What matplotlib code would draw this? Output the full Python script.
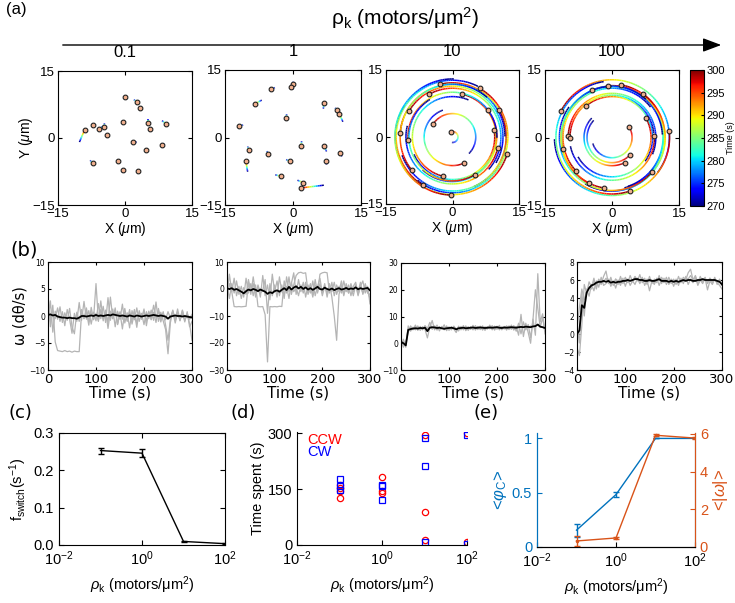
import numpy as np
import matplotlib
matplotlib.use('Agg')
import matplotlib.pyplot as plt
from matplotlib.collections import LineCollection
from matplotlib.patches import FancyArrowPatch
from matplotlib.colors import Normalize
from matplotlib.cm import ScalarMappable

plt.rcParams['font.family'] = 'Liberation Sans'
plt.rcParams['mathtext.fontset'] = 'custom'
plt.rcParams['mathtext.rm'] = 'Liberation Sans'
plt.rcParams['mathtext.it'] = 'Liberation Sans:italic'
plt.rcParams['mathtext.bf'] = 'Liberation Sans:bold'

densities = ['0.1', '1', '10', '100']

# (a) filament positions at t = 300 s, and at t = 270 s for the low-density runs
p1_x = [0.0, 2.6, 3.4, -9.0, -7.1, -5.8, -4.7, -4.1, -0.4, 5.1, 5.6, 9.2, 1.8, 4.6, 8.2, -7.2, -1.6, -0.4, 2.8]
p1_y = [9.1, 8.1, 6.8, 1.9, 2.9, 2.0, 2.5, 0.6, 3.6, 3.4, 2.1, 3.1, -1.0, -2.6, -1.6, -5.7, -5.2, -7.2, -7.4]
p1_x0 = [0.1, 2.0, 3.5, -10.2, -7.2, -5.0, -4.6, -4.2, -0.6, 5.1, 5.7, 8.3, 2.6, 4.7, 8.8, -7.8, -1.2, -0.7, 2.9]
p1_y0 = [9.3, 8.6, 7.1, -0.9, 2.4, 2.6, 3.3, 0.8, 3.9, 4.3, 2.4, 3.9, -0.9, -2.3, -1.3, -5.0, -5.0, -7.7, -7.1]

p2_x = [-0.1, -0.5, -4.9, -8.4, 6.8, 9.6, 10.2, -1.5, -11.9, 1.8, 6.8, 10.4, -9.8, -5.6, -0.7, 7.2, -10.4, -2.7, 2.2, 1.8]
p2_y = [12.0, 11.2, 10.7, 7.5, 7.7, 6.1, 5.3, 4.4, 2.5, -1.8, -1.8, -3.4, -2.7, -3.7, -5.3, -5.2, -5.3, -8.6, -10.0, -11.2]
p2_x0 = [0.1, 0.1, -4.0, -6.9, 6.7, 9.3, 11.0, -1.4, -11.0, 1.9, 7.4, 10.8, -10.0, -5.7, -1.5, 7.4, -10.0, -3.9, 1.0, 6.8]
p2_y0 = [12.4, 10.7, 11.1, 8.3, 6.4, 6.6, 3.5, 5.2, 2.8, -0.8, -3.1, -4.2, -2.0, -3.0, -4.9, -6.0, -7.6, -8.3, -9.5, -10.6]

# high-density runs: positions at t = 300 s and angle swept (deg) over the last 30 s
p3_x = [-2.8, 6.1, -5.2, 2.1, -9.8, 7.9, 10.5, -4.3, -0.3, -11.8, -10.0, 9.4, 10.2, 12.3, 2.7, -9.2, 5.1, -2.1, -6.7, -0.3]
p3_y = [11.8, 10.9, 9.6, 9.6, 5.8, 6.1, 6.0, 3.0, 1.2, 0.9, -0.7, 1.5, -2.5, -3.9, -5.8, -7.4, -8.4, -8.8, -10.8, -13.0]
p3_sweep = [170, 190, 160, 200, 180, 170, 190, 190, 200, 175, 185, 165, 180, 195, 185, 170, 180, 190, 175, 180]

p4_x = [-4.5, -0.8, 2.0, 6.9, -11.4, -5.8, 7.6, 3.8, 9.5, 12.8, -9.8, -9.4, -11.0, 4.1, 2.8, -8.0, 9.0, -5.1, -1.9, 4.0]
p4_y = [10.5, 11.5, 11.7, 9.7, 5.9, 7.0, 4.3, 2.4, 0.3, 1.5, 0.4, -0.2, -2.6, -3.8, -5.6, -7.5, -7.6, -10.2, -11.2, -11.9]
p4_sweep = [185, 170, 200, 175, 190, 165, 180, 195, 170, 185, 200, 175, 190, 180, 160, 185, 175, 195, 170, 190]

# (b) angular velocity traces, sampled every 5 s
t_b = np.arange(0, 301, 5)

b1_mean = [0.2, 0.3, 0.1, 0.2, -0.1, -0.2, -0.3, -0.3, -0.4, -0.3, -0.4, -0.4, -0.5, -0.3, 0.0, 0.0, -0.1, 0.0, 0.1, 0.0,
           0.2, 0.0, 0.1, 0.0, 0.1, 0.2, 0.1, 0.3, 0.2, 0.1, 0.0, 0.1, 0.0, -0.1, 0.1, 0.0, -0.1, 0.1, 0.0, -0.1,
           0.0, 0.1, 0.0, 0.1, 0.2, 0.1, 0.0, 0.1, 0.0, -0.1, -0.5, -0.1, 0.0, 0.1, 0.0, 0.0, -0.1, 0.0, -0.1, -0.2, -0.3]
b1_runs = [
    [3.5, -1.0, 2.0, -4.8, -6.4, -6.5, -6.6, -6.4, -6.6, -6.5, -6.7, -6.5, -6.6, -6.6, 0.8, -0.5, 1.5, -1.0, 0.6, -0.4,
     6.0, -0.8, 1.2, -0.6, 0.9, -1.2, 3.5, -0.5, 1.0, -1.5, 0.8, -0.6, 1.4, -1.0, 0.5, -0.8, 1.2, -1.4, 0.6, -0.5,
     1.0, -0.9, 0.7, -0.6, 2.0, -0.3, 0.9, -1.1, 0.5, -0.7, 0.8, -0.4, 1.1, -0.9, 0.6, -0.5, 1.0, -0.8, 0.4, -0.6, 0.3],
    [4.2, -2.0, 1.0, -0.5, 1.5, -1.0, 0.8, -1.8, 1.2, -0.6, -3.2, 0.5, -1.0, 2.5, -0.8, 2.7, -0.6, 1.0, -1.5, 0.7,
     -0.9, 2.3, -0.5, 1.8, -1.2, 3.4, -0.8, 1.3, -2.0, 0.9, -0.6, 2.2, -1.3, 0.6, -2.2, 1.0, -0.7, 1.5, -1.0, 0.5,
     -1.6, 0.8, -0.5, 1.1, -0.8, 2.6, -1.0, 0.7, -0.9, -2.5, -7.0, -1.2, 0.9, -0.6, 1.3, -0.8, 0.6, -1.1, 0.8, -2.0, -1.0],
    [-1.0, 2.8, -3.0, 0.9, -0.6, 1.7, -1.2, 0.6, -0.8, 1.4, -2.0, -3.3, 0.7, -1.0, 1.2, -0.5, 0.8, -1.7, 1.6, -0.7,
     0.5, -1.0, 2.8, -0.9, 1.1, -2.3, 0.9, -0.5, 1.5, -1.6, 0.6, -2.4, 0.8, -0.8, 1.2, -1.5, 0.5, -2.1, 1.0, -0.6,
     1.3, -1.8, 0.9, -0.7, 0.7, -1.2, 1.4, -0.6, 0.8, -1.7, -4.5, -0.5, 0.9, -1.3, 0.6, -0.9, 1.1, -0.7, 0.5, -1.5, -4.5],
]

b2_mean = [0.2, 0.0, 0.3, -0.3, 0.0, -0.5, -1.0, -1.6, -0.8, -0.2, -0.5, 0.0, -0.3, -0.8, -0.2, -0.6, -1.0, -1.8, -1.2, -1.5,
           -0.8, -0.5, -1.0, -0.3, 0.3, -0.4, 0.8, -0.2, 0.5, 1.0, 0.2, 0.8, 0.0, 0.6, -0.2, 0.3, -0.3, 0.2, 0.8, 0.0,
           -0.2, 0.5, 0.0, -0.3, 0.2, -0.4, 0.0, 0.3, -0.2, 0.0, 0.4, -0.1, 0.2, 0.0, 0.6, -0.1, 0.3, 0.0, 0.2, 0.4, -0.5]
b2_runs = [
    [-2.0, 5.5, -1.0, -6.5, -6.6, -6.5, -6.6, -6.5, -6.4, 2.5, -2.0, 4.5, -1.5, 1.0, -3.0, 5.0, -2.5, 1.5, -4.0, 5.5,
     -1.0, 3.0, -2.5, 1.5, -3.5, 4.5, -1.0, 2.0, 6.0, -2.0, 3.5, -1.0, 2.5, -3.0, 1.5, -1.5, 3.0, -2.5, 1.0, 4.0,
     -1.5, 2.0, -3.0, 1.5, -1.0, 2.5, -2.0, 1.0, -1.5, 3.0, -1.0, 1.5, -2.5, 1.0, 2.5, -2.0, 1.0, -1.5, 2.0, -1.0, -3.5],
    [1.5, -3.5, 2.0, -1.5, 3.0, -2.0, 1.0, -3.0, 4.0, -1.5, 2.0, -2.5, 1.5, -6.5, -6.6, -6.5, -9.5, -27.0, -6.5, -6.6,
     -6.5, -6.6, -6.4, -6.5, 3.0, -1.5, 4.5, -2.0, 1.5, 5.0, 6.0, 6.2, 5.8, 6.0, -1.0, 2.0, -2.0, 3.5, -1.5, 5.5,
     6.0, 6.2, 6.0, -1.5, 2.5, -2.5, 1.5, -1.0, 3.0, -2.0, 1.0, -1.5, 2.0, -1.0, 1.5, -2.5, 1.0, 3.0, -1.5, 1.0, -5.5],
    [-3.0, 2.0, -1.0, 4.0, -2.5, 1.0, -3.5, 0.5, -2.0, 3.5, -1.0, 2.0, -3.0, 1.5, -1.5, -0.5, 3.5, -9.0, 2.0, -2.5,
     1.5, -3.0, 4.5, -1.0, -2.0, 1.0, -3.5, 2.5, -1.0, 0.5, -2.5, 1.5, -1.5, 2.5, -2.0, 1.0, -3.0, 1.5, -1.0, 2.0,
     -2.5, 1.0, -1.5, 2.0, -3.0, -10.0, -19.0, -2.0, 1.5, -2.5, 2.0, -1.5, 1.0, -2.5, 1.5, -1.0, 2.5, -2.0, 1.0, -1.5, -2.0],
]

b3_mean = [0.5, 0.0, -0.8, 5.0, 5.3, 5.5, 5.6, 5.5, 5.7, 5.6, 5.8, 4.5, 5.8, 6.0, 5.9, 5.7, 5.8, 5.6, 5.4, 5.6,
           5.7, 5.8, 5.6, 5.2, 5.6, 5.7, 5.8, 5.6, 5.7, 5.8, 5.9, 5.7, 5.8, 5.9, 5.8, 5.7, 5.8, 5.9, 5.8, 5.9,
           6.0, 5.8, 5.7, 5.9, 5.8, 5.9, 6.0, 5.9, 5.8, 6.0, 6.1, 6.0, 6.2, 6.1, 6.0, 6.3, 6.4, 7.0, 6.2, 6.0, 5.7]
b3_runs = [
    [-1.0, 1.5, -1.5, 6.5, 4.5, 6.0, 5.0, 6.5, 4.8, 6.2, 5.2, 2.0, 6.0, 8.5, 5.0, 6.8, 4.6, 6.3, 5.0, 6.5,
     4.8, 6.2, 5.3, 4.0, 6.4, 5.0, 6.6, 4.7, 6.1, 5.2, 6.7, 4.9, 6.3, 5.1, 6.5, 4.8, 6.2, 5.4, 6.6, 4.9,
     6.4, 5.0, 6.2, 5.3, 6.5, 5.1, 6.8, 4.9, 6.3, 3.0, 10.8, 2.5, 7.5, 4.0, 0.0, 9.0, 3.0, 26.0, 8.0, 11.0, 3.5],
    [1.0, -1.5, 0.5, 4.0, 6.5, 5.0, 6.8, 4.8, 6.3, 5.0, 6.6, 5.5, 7.8, 5.2, 6.5, 4.9, 6.0, 5.4, 6.9, 4.7,
     6.1, 5.0, 6.4, 5.2, 4.6, 6.3, 5.0, 6.5, 4.8, 6.2, 5.0, 6.6, 5.1, 6.4, 4.9, 6.2, 5.3, 6.8, 5.0, 6.4,
     5.2, 6.7, 5.0, 6.3, 4.9, 6.5, 5.2, 6.6, 4.5, 7.5, 3.5, 8.0, 5.0, 7.0, 2.0, 9.0, 20.0, 13.0, 6.0, 9.5, 4.5],
    [0.0, 0.5, -0.3, 5.5, 5.8, 5.2, 6.2, 5.4, 5.9, 5.3, 6.0, 5.0, 6.3, 5.5, 6.0, 5.5, 6.2, 5.4, 5.8, 5.6,
     6.0, 5.5, 6.1, 5.4, 5.9, 5.6, 6.0, 5.5, 6.1, 5.4, 5.9, 5.7, 6.2, 5.5, 6.0, 5.6, 6.1, 5.5, 6.0, 5.7,
     6.2, 5.6, 6.0, 5.8, 6.3, 5.6, 6.1, 5.9, 6.2, 5.8, 6.3, 6.0, 6.4, 5.9, 6.5, 6.1, 6.6, 6.8, 6.2, 6.0, 5.5],
]

b4_mean = [0.0, 0.4, 3.2, 2.9, 4.6, 5.1, 5.4, 5.5, 5.7, 5.8, 5.8, 5.9, 5.8, 5.9, 5.7, 5.8, 5.7, 5.8, 5.8, 5.9,
           5.9, 6.0, 5.9, 6.0, 6.1, 6.1, 6.0, 6.0, 5.9, 5.9, 6.0, 5.9, 5.9, 6.0, 6.1, 5.9, 5.9, 5.9, 5.8, 5.9,
           5.8, 5.9, 5.8, 5.9, 6.0, 5.9, 6.0, 6.0, 5.9, 5.9, 6.0, 6.0, 6.1, 6.0, 6.0, 6.0, 6.0, 6.0, 5.9, 5.8, 5.5]
b4_runs = [
    [-1.5, -2.4, 1.0, 5.5, 4.5, 5.8, 5.2, 6.2, 5.0, 6.0, 5.5, 6.4, 7.0, 5.6, 6.3, 5.4, 6.1, 5.5, 6.4, 5.6,
     6.2, 5.7, 6.5, 5.8, 6.3, 5.9, 6.6, 5.7, 6.2, 5.5, 6.4, 5.6, 6.1, 5.7, 6.5, 5.6, 6.2, 5.5, 6.3, 5.6,
     6.1, 5.5, 6.4, 5.7, 6.3, 6.0, 6.8, 7.2, 6.0, 6.5, 5.7, 6.4, 5.8, 6.3, 5.6, 6.2, 5.7, 6.3, 5.5, 6.1, 5.4],
    [1.0, -1.0, 4.5, 2.0, 5.0, 4.2, 5.5, 4.8, 5.9, 5.2, 6.3, 5.4, 5.6, 6.1, 5.3, 5.9, 5.1, 6.0, 5.4, 6.2,
     5.3, 6.1, 5.4, 5.9, 5.5, 6.2, 5.6, 6.3, 5.4, 6.0, 4.8, 5.9, 5.5, 6.2, 5.4, 6.1, 5.7, 6.3, 5.5, 6.0,
     5.3, 6.1, 5.4, 6.2, 5.6, 6.4, 5.5, 6.1, 5.7, 6.3, 5.4, 6.0, 5.6, 6.2, 4.9, 5.9, 5.5, 6.1, 5.7, 5.4, 5.0],
    [0.5, 3.0, 5.0, 3.8, 4.8, 5.3, 5.0, 5.9, 5.4, 6.1, 5.6, 5.8, 6.2, 5.7, 6.0, 5.6, 6.1, 5.8, 6.0, 5.7,
     6.3, 5.8, 6.0, 5.9, 6.4, 6.0, 5.8, 6.2, 5.9, 6.1, 5.8, 6.0, 5.7, 6.1, 5.9, 6.3, 5.8, 6.0, 5.6, 6.1,
     5.8, 5.9, 5.7, 6.0, 5.9, 6.2, 6.1, 6.5, 6.0, 6.1, 5.8, 6.2, 5.9, 6.1, 5.8, 6.2, 5.9, 6.0, 5.8, 6.0, 5.6],
]
b_ylims = [(-10, 10), (-30, 10), (-10, 30), (-4, 8)]
b_yticks = [[-10, -5, 0, 5, 10], [-30, -20, -10, 0, 10], [-10, 0, 10, 20, 30], [-4, -2, 0, 2, 4, 6, 8]]

# (c) switching frequency
rho = [0.1, 1, 10, 100]
f_switch = [0.253, 0.246, 0.0095, 0.0036]
f_switch_err = [0.008, 0.011, 0.002, 0.001]

# (d) time spent in each rotation direction
ccw_rho = [0.1, 0.1, 0.1, 0.1, 1, 1, 1, 10, 10, 10, 100, 100]
ccw_time = [160, 153, 145, 126, 182, 145, 140, 295, 89, 13, 299, 8]
cw_rho = [0.1, 0.1, 0.1, 1, 1, 1, 10, 10, 10, 100, 100]
cw_time = [176, 157, 148, 161, 157, 120, 288, 213, 9, 296, 4]

# (e) chirality order parameter and mean |omega|
phi_c = [0.155, 0.483, 1.0, 1.0]
phi_c_err = [0.06, 0.027, 0.0, 0.0]
omega_abs = [0.32, 0.48, 5.93, 5.78]
omega_abs_err = [0.27, 0.05, 0.05, 0.05]

BLUE = '#0072BD'
ORANGE = '#D95319'
W, H = 735, 603


def box(l, t, r, b):
    return [l / W, 1 - b / H, (r - l) / W, (b - t) / H]


fig = plt.figure(figsize=(W / 100, H / 100), dpi=100)
norm = Normalize(270, 300)


def colored_track(ax, xs, ys):
    pts = np.column_stack([xs, ys]).reshape(-1, 1, 2)
    segs = np.concatenate([pts[:-1], pts[1:]], axis=1)
    lc = LineCollection(segs, cmap='jet', norm=norm, linewidth=1.1)
    lc.set_array(np.linspace(270, 300, len(segs)))
    ax.add_collection(lc)


# ---- (a) trajectories ----
a_boxes = [box(58, 71, 192, 205), box(225, 70, 361, 205), box(386, 70, 519, 204), box(545, 70, 679, 205)]
for i, bx in enumerate(a_boxes):
    ax = fig.add_axes(bx)
    if i < 2:
        xe, ye, xs0, ys0 = [(p1_x, p1_y, p1_x0, p1_y0), (p2_x, p2_y, p2_x0, p2_y0)][i]
        for x1, y1, x0, y0 in zip(xe, ye, xs0, ys0):
            colored_track(ax, np.linspace(x0, x1, 12), np.linspace(y0, y1, 12))
    else:
        xe, ye, sw = [(p3_x, p3_y, p3_sweep), (p4_x, p4_y, p4_sweep)][i - 2]
        for x1, y1, s in zip(xe, ye, sw):
            r = np.hypot(x1, y1)
            th1 = np.arctan2(y1, x1)
            th = np.linspace(th1 - np.radians(s), th1, 80)
            colored_track(ax, r * np.cos(th), r * np.sin(th))
    ax.plot(xe, ye, 'o', ms=3.4, mfc='#f2b08e', mec='#202020', mew=0.8, zorder=5)
    ax.set_xlim(-15, 15)
    ax.set_ylim(-15, 15)
    ax.set_xticks([-15, 0, 15])
    ax.set_yticks([-15, 0, 15])
    ax.tick_params(direction='in', top=True, right=True, length=3, labelsize=9.5, pad=2)
    ax.set_xlabel(r'X ($\mu$m)', fontsize=10, labelpad=0)
    if i == 0:
        ax.set_ylabel(r'Y ($\mu$m)', fontsize=10, labelpad=-2)
    ax.set_title(densities[i], fontsize=12, pad=10)

cax = fig.add_axes(box(690, 70, 704, 206))
cb = fig.colorbar(ScalarMappable(norm=norm, cmap='jet'), cax=cax)
cb.set_ticks([270, 275, 280, 285, 290, 295, 300])
cb.ax.tick_params(labelsize=8, direction='in', length=2, pad=1.5)
cb.set_label('Time (s)', fontsize=6.5, labelpad=1)

fig.text(6 / W, 1 - 2 / H, '(a)', fontsize=12, va='top', ha='left')
fig.text(405 / W, 1 - 18 / H, r'ρ$_\mathrm{k}$ (motors/μm$^2$)', fontsize=15, ha='center', va='center')
fig.add_artist(FancyArrowPatch((60 / W, 1 - 45 / H), (724 / W, 1 - 45 / H), transform=fig.transFigure,
                               arrowstyle='-|>,head_length=0.8,head_width=0.3', mutation_scale=14,
                               color='k', lw=1.0))

# ---- (b) angular velocity ----
b_boxes = [box(48, 262, 192, 370), box(227, 262, 370, 370), box(401, 263, 545, 370), box(577, 262, 722, 370)]
b_data = [(b1_mean, b1_runs), (b2_mean, b2_runs), (b3_mean, b3_runs), (b4_mean, b4_runs)]
for i, bx in enumerate(b_boxes):
    ax = fig.add_axes(bx)
    mean, runs = b_data[i]
    for run in runs:
        ax.plot(t_b, run, color='#b4b4b4', lw=0.9)
    ax.plot(t_b, mean, color='k', lw=1.3)
    ax.set_xlim(0, 300)
    ax.set_ylim(*b_ylims[i])
    ax.set_xticks([0, 100, 200, 300])
    ax.set_yticks(b_yticks[i])
    ax.tick_params(direction='in', top=True, right=True, length=2.5, pad=2)
    ax.tick_params(axis='y', labelsize=5.5)
    for lab in ax.get_xticklabels():
        lab.set_fontfamily('DejaVu Sans')
        lab.set_fontsize(9.5)
    for lab in ax.get_yticklabels():
        lab.set_fontfamily('DejaVu Sans')
    ax.set_xlabel('Time (s)', fontsize=11, family='DejaVu Sans', labelpad=0)
    if i == 0:
        ax.set_ylabel('ω (dθ/s)', fontsize=10.5, family='DejaVu Sans', labelpad=1)

fig.text(10 / W, 1 - 250 / H, '(b)', fontsize=14, family='DejaVu Sans', va='center', ha='left')

xlab = r'$\rho_\mathrm{k}$ (motors/μm$^2$)'


def log_axis(ax):
    ax.set_xscale('log')
    ax.set_xlim(1e-2, 1e2)
    ax.set_xticks([1e-2, 1, 1e2])
    ax.tick_params(which='both', direction='in', labelsize=10.5)
    ax.tick_params(which='major', length=3.5)
    ax.tick_params(which='minor', length=2)
    ax.set_xlabel(xlab, fontsize=10.5, labelpad=4)


# ---- (c) switching frequency ----
ax = fig.add_axes(box(59, 433, 225, 545))
ax.errorbar(rho, f_switch, yerr=f_switch_err, color='k', lw=1, elinewidth=1, capsize=2, capthick=1)
log_axis(ax)
ax.tick_params(which='both', top=True, right=True)
ax.set_ylim(0, 0.3)
ax.set_yticks([0, 0.1, 0.2, 0.3])
ax.set_ylabel(r'f$_\mathrm{switch}$(s$^{-1}$)', fontsize=10.5, labelpad=3)
fig.text(8 / W, 1 - 413 / H, '(c)', fontsize=13, family='DejaVu Sans', va='center', ha='left')

# ---- (d) time spent CCW / CW ----
ax = fig.add_axes(box(297, 432, 467, 545))
ax.plot(ccw_rho, ccw_time, 'o', ms=4.5, mfc='none', mec='#ff0000', mew=0.9)
ax.plot(cw_rho, cw_time, 's', ms=4, mfc='none', mec='#0000ff', mew=0.9)
log_axis(ax)
ax.set_ylim(0, 303)
ax.set_yticks([0, 150, 300])
ax.spines['top'].set_visible(False)
ax.spines['right'].set_visible(False)
ax.set_ylabel('Time spent (s)', fontsize=10.5, labelpad=2)
ax.text(0.06, 0.93, 'CCW', color='#ff0000', fontsize=10.5, transform=ax.transAxes, va='center')
ax.text(0.06, 0.82, 'CW', color='#0000ff', fontsize=10.5, transform=ax.transAxes, va='center')
fig.text(231 / W, 1 - 413 / H, '(d)', fontsize=13, family='DejaVu Sans', va='center', ha='left')

# ---- (e) order parameter and |omega| ----
ax = fig.add_axes(box(537, 433, 695, 547))
ax.errorbar(rho, phi_c, yerr=phi_c_err, color=BLUE, lw=1, elinewidth=1, capsize=2, capthick=1)
log_axis(ax)
ax.set_ylim(0, 1.05)
ax.set_yticks([0, 0.5, 1])
ax.set_yticklabels(['0', '0.5', '1'])
ax.tick_params(axis='y', colors=BLUE)
ax.spines['left'].set_color(BLUE)
ax.spines['top'].set_visible(False)
ax.set_ylabel(r'<$\varphi_\mathrm{C}$>', color=BLUE, fontsize=12, labelpad=2)
ax2 = ax.twinx()
ax2.errorbar(rho, omega_abs, yerr=omega_abs_err, color=ORANGE, lw=1, elinewidth=1, capsize=2, capthick=1,
             marker='.', ms=3)
ax2.set_ylim(0, 6.05)
ax2.set_yticks([0, 2, 4, 6])
ax2.tick_params(axis='y', colors=ORANGE, direction='in', labelsize=10.5, length=3.5)
ax2.spines['right'].set_color(ORANGE)
ax2.spines['left'].set_color(BLUE)
ax2.spines['top'].set_visible(False)
ax2.set_ylabel(r'<|$\omega$|>', color=ORANGE, fontsize=12, labelpad=2)
fig.text(474 / W, 1 - 413 / H, '(e)', fontsize=13, family='DejaVu Sans', va='center', ha='left')

fig.savefig('out.png', dpi=100)
